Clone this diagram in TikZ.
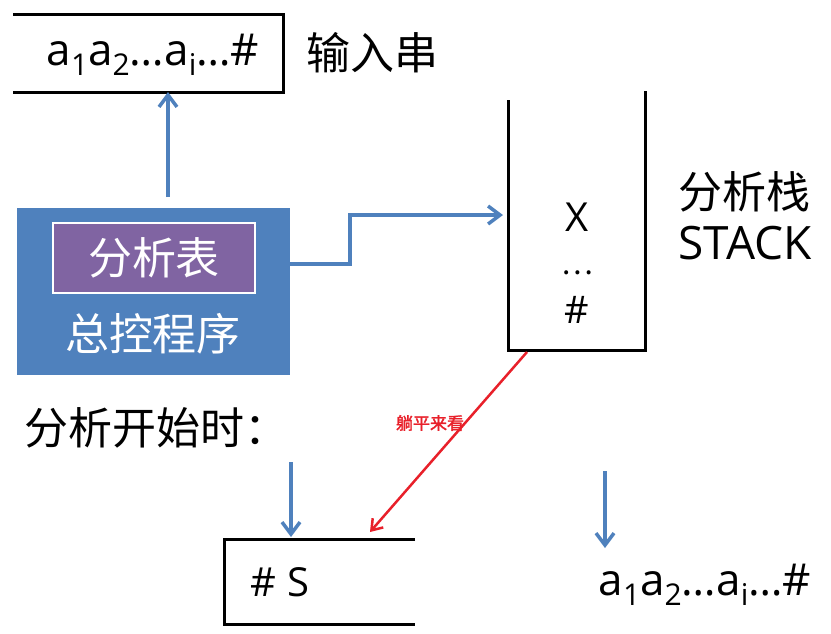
\documentclass[tikz,border=0pt]{standalone}
\usepackage{fontspec}
\setmainfont{Open Sans}
\newfontfamily\cjk[AutoFakeBold=2]{Noto Sans CJK SC}
\usetikzlibrary{arrows.meta}
\definecolor{ppblue}{HTML}{4F81BD}
\definecolor{pppurple}{HTML}{8064A2}
\definecolor{ppred}{HTML}{E8202A}
\newcommand\sbs[1]{\raisebox{-0.22em}{\fontsize{30}{30}\selectfont #1}}
\begin{document}
\begin{tikzpicture}[x=1pt,y=-1pt,
  blk/.style={line width=3pt, black},
  barrow/.style={line width=3.5pt, ppblue, -{Straight Barb[length=12pt,width=18pt]}},
  rarrow/.style={line width=2.5pt, ppred, -{Straight Barb[length=10pt,width=14pt]}},
  cjktxt/.style={inner sep=0pt, font=\cjk\fontsize{44}{44}\selectfont},
  lattxt/.style={inner sep=0pt, font=\fontsize{44}{44}\selectfont},
]
\useasboundingbox (0,0) rectangle (831,633);
% input string (top)
\draw[blk] (13,14) -- (283,14) -- (283,92) -- (13,92);
\node[lattxt] (instr) at (153,55) {a\sbs{1}a\sbs{2}…a\sbs{i}…\#};
\node[cjktxt, anchor=west] (inlbl) at (306,53) {输入串};
\coordinate (inbot) at (168,92);
\coordinate (upstart) at (168,197);
% control program
\node[fill=ppblue, inner sep=0pt, minimum width=273pt, minimum height=167pt] (ctrl) at (153.5,291.5) {};
\node[fill=pppurple, draw=white, line width=2.5pt, inner sep=0pt, minimum width=202pt, minimum height=70pt] (tab) at (154,258) {};
\node[cjktxt, text=white] (tablbl) at (tab) {分析表};
\node[cjktxt, text=white] (ctrllbl) at (153,334) {总控程序};
\draw[barrow] (upstart) -- (inbot);
% stack
\draw[blk] (508,100) -- (508,350) -- (645,350) -- (645,91);
\coordinate (stk) at (503,215);
\coordinate (stkbot) at (527,352);
\node[inner sep=0pt, font=\fontsize{40}{40}\selectfont] (sx) at (577,217) {X};
\node[inner sep=0pt, font=\cjk\fontsize{30}{30}\selectfont] (sdots) at (577,273) {…};
\node[inner sep=0pt, font=\fontsize{38}{38}\selectfont] (shash) at (577,310) {\#};
\node[cjktxt] (stklbl) at (744,192) {分析栈};
\node[inner sep=0pt, font=\fontsize{46}{46}\selectfont] (stkname) at (745,243) {STACK};
\draw[barrow] ([yshift=27.5pt]ctrl.east) -- ++(60,0) |- (stk);
% start
\node[cjktxt, anchor=west] (start) at (24,428) {分析开始时：};
\coordinate (d1s) at (291,462);
\coordinate (d1e) at (291,537);
\draw[barrow] (d1s) -- (d1e);
\draw[blk] (415,539) -- (224,539) -- (224,624) -- (415,624);
\node[inner sep=0pt, font=\fontsize{40}{40}\selectfont] (hs) at (280,582) {\# S};
\coordinate (sbox) at (370,532);
\draw[rarrow] (stkbot) -- (sbox);
\node[inner sep=0pt, text=ppred, font=\cjk\bfseries\fontsize{17}{17}\selectfont] (lie) at (430,423) {躺平来看};
\coordinate (d2s) at (605,471);
\coordinate (d2e) at (605,548);
\draw[barrow] (d2s) -- (d2e);
\node[lattxt] (instr2) at (705,585) {a\sbs{1}a\sbs{2}…a\sbs{i}…\#};
\end{tikzpicture}
\end{document}
